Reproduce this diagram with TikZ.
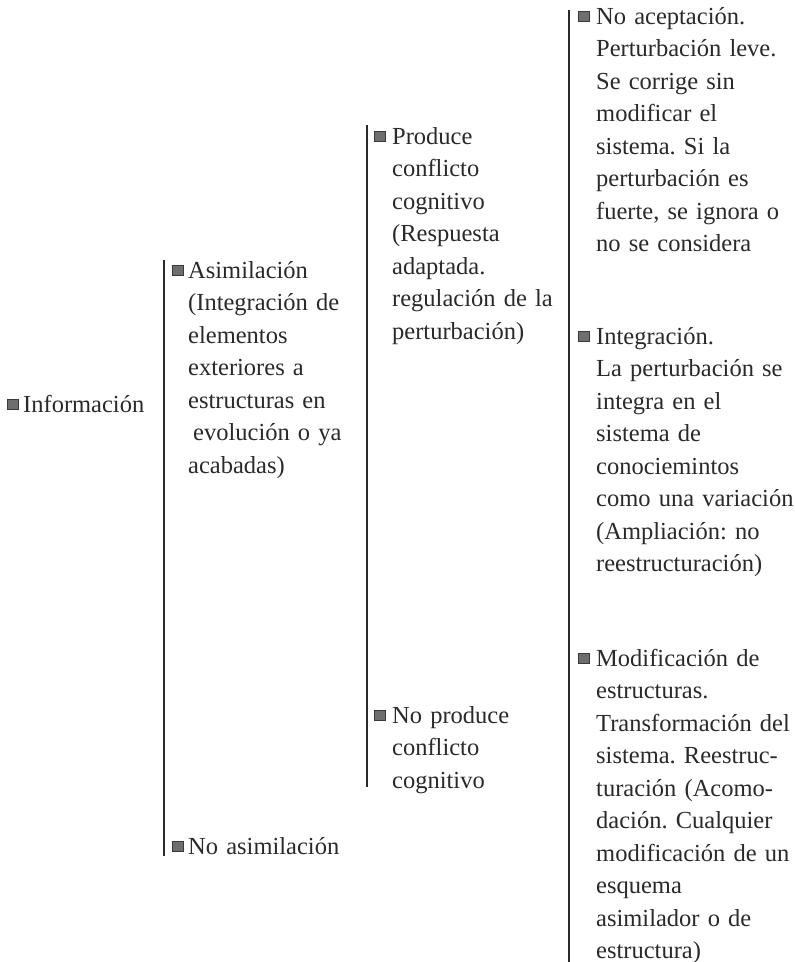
\documentclass[tikz,border=0pt]{standalone}
\usepackage{fontspec}
\setmainfont{Liberation Serif}
\frenchspacing
\definecolor{ink}{HTML}{2A2A2A}
\definecolor{bul}{HTML}{6E6E6E}
\definecolor{bulb}{HTML}{3A3A3A}
\tikzset{
  item/.style={anchor=base west, inner sep=0pt, text width=220pt, align=left,
    font=\fontsize{24.5}{32.5}\selectfont, text=ink},
  bullet/.style={draw=bulb, fill=bul, line width=0.6pt, minimum size=10.5pt,
    inner sep=0pt, anchor=south west},
  bracket/.style={draw=ink, line width=1.3pt}
}
\begin{document}
\begin{tikzpicture}[x=1pt,y=-1pt]
\useasboundingbox[fill=white] (0,0) rectangle (795,962);
% vertical brackets
\coordinate (l1t) at (164,260); \coordinate (l1b) at (164,856);
\coordinate (l2t) at (367,125); \coordinate (l2b) at (367,787);
\coordinate (l3t) at (569,10);  \coordinate (l3b) at (569,962);
\draw[bracket] (l1t) -- (l1b);
\draw[bracket] (l2t) -- (l2b);
\draw[bracket] (l3t) -- (l3b);
% column 1
\node[bullet] (b1) at (7,410) {};
\node[item] (t1) at (23,412) {Información};
% column 2
\node[bullet] (b2) at (172,276) {};
\node[item] (t2) at (188,278) {Asimilación\\(Integración de\\elementos\\exteriores a\\estructuras en\\\hspace*{5pt}evolución o ya\\acabadas)};
\node[bullet] (b3) at (172,852) {};
\node[item] (t3) at (188,854) {No asimilación};
% column 3
\node[bullet] (b4) at (374,142) {};
\node[item] (t4) at (392,144) {Produce\\conflicto\\cognitivo\\(Respuesta\\adaptada.\\regulación de la\\perturbación)};
\node[bullet] (b5) at (374,721) {};
\node[item] (t5) at (392,723) {No produce\\conflicto\\cognitivo};
% column 4
\node[bullet] (b6) at (578,22) {};
\node[item] (t6) at (596,24) {No aceptación.\\Perturbación leve.\\Se corrige sin\\modificar el\\sistema. Si la\\perturbación es\\fuerte, se ignora o\\no se considera};
\node[bullet] (b7) at (578,342) {};
\node[item] (t7) at (596,344) {Integración.\\La perturbación se\\integra en el\\sistema de\\conociemintos\\como una variación\\(Ampliación: no\\reestructuración)};
\node[bullet] (b8) at (578,664) {};
\node[item] (t8) at (596,666) {Modificación de\\estructuras.\\Transformación del\\sistema. Reestruc-\\turación (Acomo-\\dación. Cualquier\\modificación de un\\esquema\\asimilador o de\\estructura)};
\end{tikzpicture}
\end{document}
